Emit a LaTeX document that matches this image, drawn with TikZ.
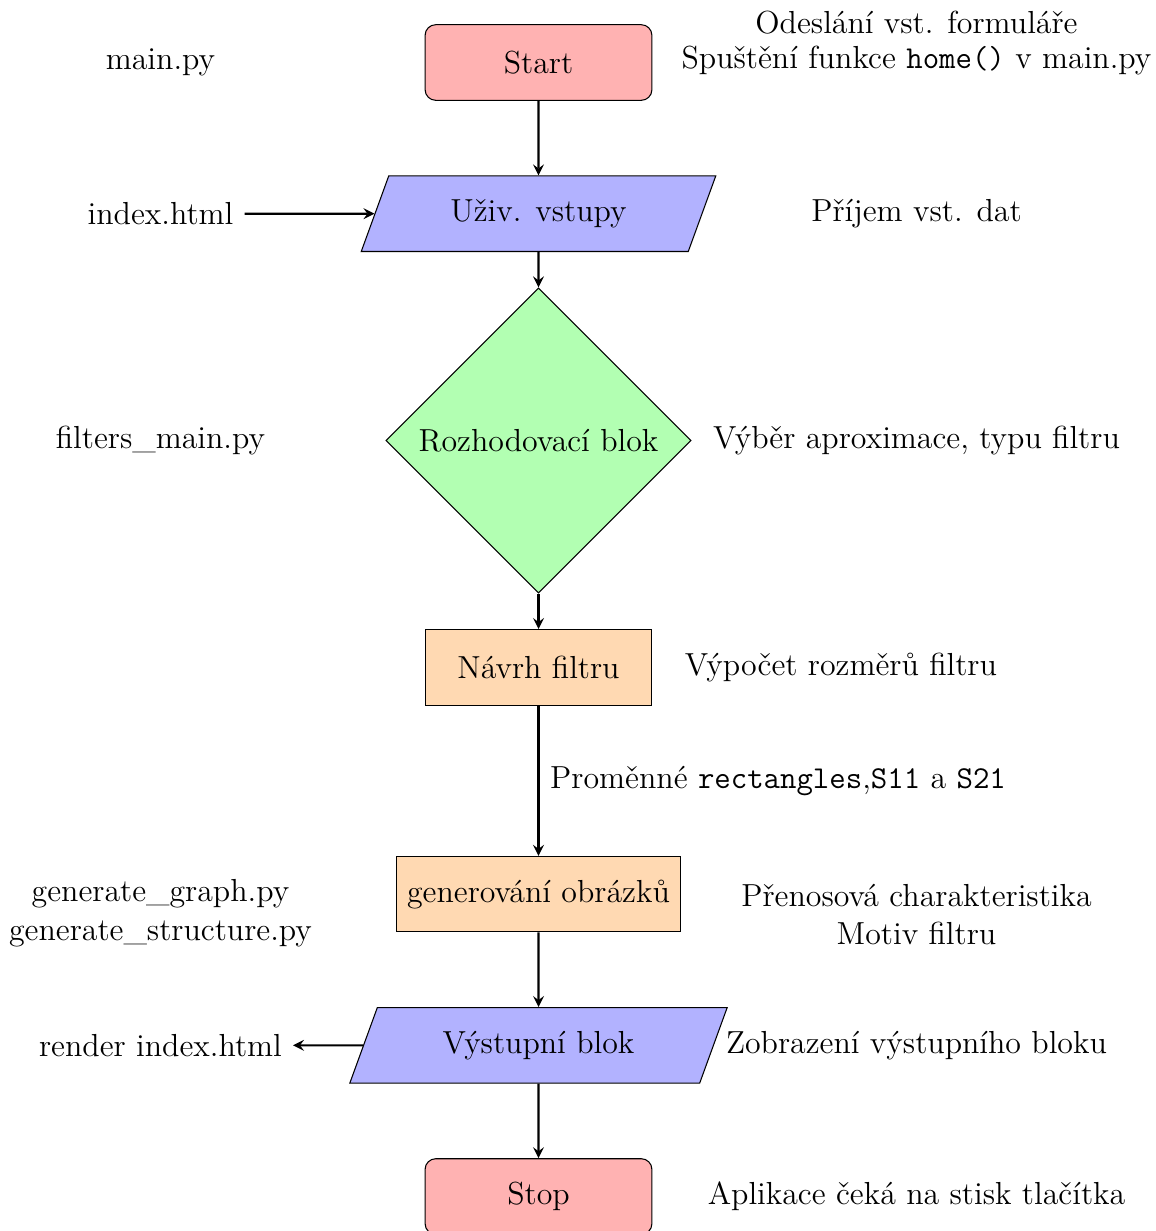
\documentclass[tikz,border=0pt,12pt]{standalone}
\usepackage{fontspec}
\usetikzlibrary{shapes.geometric,arrows,positioning}

\tikzset{
  startstop/.style={rectangle, rounded corners, minimum width=3cm, minimum height=1cm, text centered, draw=black, fill=red!30},
  io/.style={trapezium, trapezium left angle=70, trapezium right angle=110, minimum width=3cm, minimum height=1cm, text centered, draw=black, fill=blue!30},
  process/.style={rectangle, minimum width=3cm, minimum height=1cm, text centered, draw=black, fill=orange!30},
  decision/.style={diamond, minimum width=3cm, minimum height=1cm, text centered, draw=black, fill=green!30},
  arrow/.style={thick,->,>=stealth}
}

\begin{document}
\begin{tikzpicture}[node distance=2cm,on grid,auto]
   \useasboundingbox (-7.123,0.827) rectangle (8.155,-15.456);
   \node[startstop] (start) {Start};
   \node[io] (vstupy) [below=of start] {Uživ. vstupy};
   \node[decision] (rozhod) [below=3cm of vstupy] {Rozhodovací blok};
   \node[process] (navrh) [below=3cm of rozhod] {Návrh filtru};
   \node[process] (obrazky) [below=3cm of navrh] {generování obrázků};
   \node[io] (vystup) [below=of obrazky] {Výstupní blok};
   \node[startstop] (stop) [below=of vystup] {Stop};

   % soubory vlevo
   \node (mainpy) [left=5cm of start] {main.py};
   \node (index) [left=5cm of vstupy] {index.html};
   \node (filters) [left=5cm of rozhod] {filters\_main.py};
   \node[align=center] (generate) [left=5cm of obrazky, yshift=-0.25cm] {generate\_graph.py\\generate\_structure.py};
   \node (render) [left=5cm of vystup] {render index.html};

   % popisy vpravo
   \node[align=center] (odeslani) [right=5cm of start, yshift=0.26cm] {Odeslání vst. formuláře\\[-1.5pt]Spuštění funkce \texttt{home()} v main.py};
   \node (prijem) [right=5cm of vstupy] {Příjem vst. dat};
   \node (vyber) [right=5cm of rozhod] {Výběr aproximace, typu filtru};
   \node (vypocet) [right=4cm of navrh] {Výpočet rozměrů filtru};
   \node[align=center] (prenos) [right=5cm of obrazky, yshift=-0.27cm] {Přenosová charakteristika\\Motiv filtru};
   \node (zobrazeni) [right=5cm of vystup] {Zobrazení výstupního bloku};
   \node (aplikace) [right=5cm of stop] {Aplikace čeká na stisk tlačítka};

   \path[arrow]
    (start) edge (vstupy)
    (vstupy) edge (rozhod)
    (rozhod) edge (navrh)
    (navrh) edge node {Proměnné \texttt{rectangles},\texttt{S11} a \texttt{S21}} (obrazky)
    (obrazky) edge (vystup)
    (vystup) edge (stop)
    (index) edge (vstupy)
    (vystup) edge (render);
\end{tikzpicture}
\end{document}
